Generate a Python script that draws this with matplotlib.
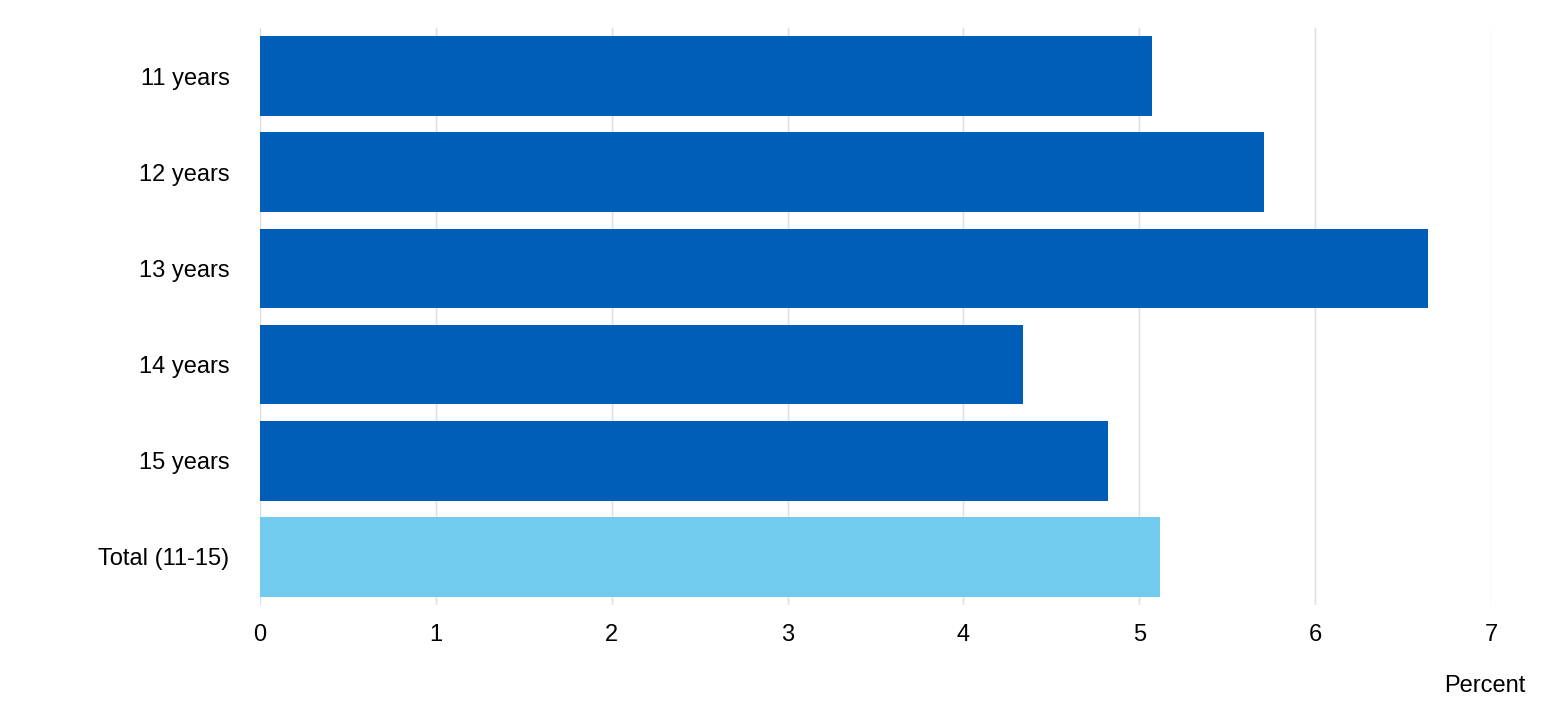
import matplotlib
matplotlib.use("Agg")
import matplotlib.pyplot as plt

categories = ["11 years", "12 years", "13 years", "14 years", "15 years", "Total (11-15)"]
values = [5.07, 5.71, 6.64, 4.34, 4.82, 5.12]
colors = ["#005EB8"] * 5 + ["#71CBEE"]

plt.rcParams['font.family'] = ['Liberation Sans', 'DejaVu Sans']
fig = plt.figure(figsize=(15.59, 7.15), dpi=100)
ax = fig.add_axes([260/1559, 1-605/715, (1491-260)/1559, (605-28)/715])
ax.barh(range(len(categories)), values, height=0.83, color=colors, zorder=3)
ax.set_ylim(5.5, -0.5)
ax.set_xlim(0, 7)
ax.set_yticks(range(len(categories)))
ax.set_yticklabels(categories, fontsize=17)
ax.set_xticks(range(8))
ax.tick_params(axis='x', labelsize=17, length=0, pad=14)
ax.tick_params(axis='y', length=0, pad=22)
ax.grid(axis='x', color='#dddddd', linewidth=1, zorder=0)
for s in ax.spines.values():
    s.set_visible(False)
fig.text(1526/1559, 1-686/715, "Percent", fontsize=17, ha='right', va='center')
fig.savefig("out.png", dpi=100)
